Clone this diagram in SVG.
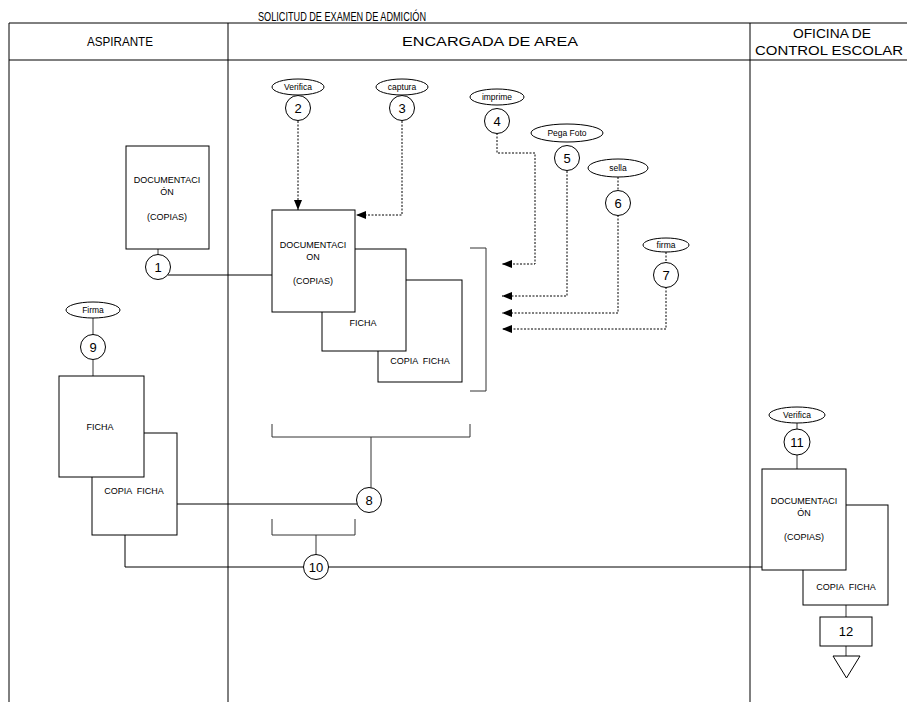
<svg xmlns="http://www.w3.org/2000/svg" width="907" height="702" viewBox="0 0 907 702">
<style>
.ln{stroke:#000;stroke-width:1;fill:none}
.cn{stroke:#333;stroke-width:1;fill:none}
.dt{stroke:#000;stroke-width:1;fill:none;stroke-dasharray:2,1.5}
.bx{fill:#fff;stroke:#000;stroke-width:1}
.el{fill:#fff;stroke:#000;stroke-width:1}
.hd{font-family:"Liberation Sans",Arial,sans-serif;font-size:13px;fill:#000;text-anchor:middle}
.sm{font-family:"Liberation Sans",Arial,sans-serif;font-size:9px;fill:#000;text-anchor:middle;white-space:pre}
.es{font-family:"Liberation Sans",Arial,sans-serif;font-size:8.5px;fill:#000;text-anchor:middle}
.nm{font-family:"Liberation Sans",Arial,sans-serif;font-size:13px;fill:#000;text-anchor:middle}
</style>
<defs>
<marker id="ar" markerWidth="10" markerHeight="8" refX="10" refY="4" orient="auto" markerUnits="userSpaceOnUse">
<path d="M0,0 L10,4 L0,8 Z" fill="#000"/>
</marker>
</defs>
<rect width="907" height="702" fill="#fff"/>
<g id="table">
<text class="hd" x="342" y="21" textLength="168" lengthAdjust="spacingAndGlyphs">SOLICITUD DE EXAMEN DE ADMICIÓN</text>
<line class="ln" x1="9" y1="23" x2="907" y2="23"/>
<line class="ln" x1="9" y1="60" x2="907" y2="60"/>
<line class="ln" x1="9" y1="23" x2="9" y2="702"/>
<line class="ln" x1="228" y1="23" x2="228" y2="702"/>
<line class="ln" x1="750" y1="23" x2="750" y2="702"/>
<text class="hd" x="120" y="46" textLength="66" lengthAdjust="spacingAndGlyphs">ASPIRANTE</text>
<text class="hd" x="490" y="46" textLength="176" lengthAdjust="spacingAndGlyphs">ENCARGADA DE AREA</text>
<text class="hd" x="832" y="38" textLength="78" lengthAdjust="spacingAndGlyphs">OFICINA DE</text>
<text class="hd" x="829" y="55" textLength="148" lengthAdjust="spacingAndGlyphs">CONTROL ESCOLAR</text>
</g>
<g id="connectors">
<line class="cn" x1="158" y1="249" x2="158" y2="255"/>
<line class="ln" x1="168" y1="275" x2="272" y2="275"/>
<path class="dt" d="M298,121 V210" marker-end="url(#ar)"/>
<path class="dt" d="M402,121 V215 H356" marker-end="url(#ar)"/>
<path class="dt" d="M497,133 V153 H535 V264 H502" marker-end="url(#ar)"/>
<path class="dt" d="M567,171 V296 H502" marker-end="url(#ar)"/>
<path class="dt" d="M618,177 V191"/>
<path class="dt" d="M618,215 V313 H502" marker-end="url(#ar)"/>
<path class="dt" d="M666,252 V263"/>
<path class="dt" d="M666,287 V329 H502" marker-end="url(#ar)"/>
<path class="cn" d="M470,248 H486 V391 H470"/>
<path class="cn" d="M272,424 V437 H470 V424"/>
<line class="cn" x1="371" y1="437" x2="371" y2="488"/>
<line class="ln" x1="177" y1="504" x2="358" y2="504"/>
<path class="cn" d="M272,519 V535 H355 V519"/>
<line class="cn" x1="316" y1="535" x2="316" y2="555"/>
<path class="ln" d="M125,535 V567 H304"/>
<line class="ln" x1="328" y1="567" x2="762" y2="567"/>
<line class="cn" x1="93" y1="318" x2="93" y2="335"/>
<line class="cn" x1="93" y1="360" x2="93" y2="376"/>
<line class="cn" x1="797" y1="423" x2="797" y2="429"/>
<line class="cn" x1="797" y1="455" x2="797" y2="469"/>
<line class="cn" x1="846" y1="605" x2="846" y2="617"/>
<line class="cn" x1="846" y1="646" x2="846" y2="656"/>
</g>
<g id="doc-aspirante">
<rect class="bx" x="126" y="146" width="83" height="103"/>
<text class="sm" x="167" y="183">DOCUMENTACI</text>
<text class="sm" x="167" y="195">ÓN</text>
<text class="sm" x="167" y="220">(COPIAS)</text>
</g>
<g id="n1"><circle class="el" cx="158" cy="267" r="12.5"/><text class="nm" x="158" y="272">1</text></g>
<g id="n2"><ellipse class="el" cx="298" cy="87" rx="26" ry="8"/><text class="es" x="298" y="90">Verifica</text><circle class="el" cx="298" cy="108" r="12.5"/><text class="nm" x="298" y="113">2</text></g>
<g id="n3"><ellipse class="el" cx="402" cy="87" rx="26" ry="8"/><text class="es" x="402" y="90">captura</text><circle class="el" cx="402" cy="108" r="12.5"/><text class="nm" x="402" y="113">3</text></g>
<g id="n4"><ellipse class="el" cx="497" cy="97" rx="27" ry="8"/><text class="es" x="497" y="100">imprime</text><circle class="el" cx="497" cy="121" r="12.5"/><text class="nm" x="497" y="126">4</text></g>
<g id="n5"><ellipse class="el" cx="567" cy="133" rx="36" ry="9"/><text class="es" x="567" y="136">Pega Foto</text><circle class="el" cx="567" cy="158" r="12.5"/><text class="nm" x="567" y="163">5</text></g>
<g id="n6"><ellipse class="el" cx="618" cy="168" rx="30" ry="9"/><text class="es" x="618" y="171">sella</text><circle class="el" cx="618" cy="203" r="12.5"/><text class="nm" x="618" y="208">6</text></g>
<g id="n7"><ellipse class="el" cx="666" cy="245" rx="23" ry="7"/><text class="es" x="666" y="248">firma</text><circle class="el" cx="666" cy="275" r="12.5"/><text class="nm" x="666" y="280">7</text></g>
<g id="stack-encargada">
<rect class="bx" x="378" y="280" width="84" height="102"/>
<text class="sm" x="420" y="364">COPIA  FICHA</text>
<rect class="bx" x="322" y="249" width="84" height="102"/>
<text class="sm" x="363" y="326">FICHA</text>
<rect class="bx" x="272" y="210" width="83" height="102"/>
<text class="sm" x="313" y="248">DOCUMENTACI</text>
<text class="sm" x="313" y="260">ON</text>
<text class="sm" x="313" y="284">(COPIAS)</text>
</g>
<g id="n8"><circle class="el" cx="369" cy="500" r="12.5"/><text class="nm" x="369" y="505">8</text></g>
<g id="n9"><ellipse class="el" cx="93" cy="310" rx="27" ry="8"/><text class="es" x="93" y="313">Firma</text><circle class="el" cx="93" cy="347" r="12.5"/><text class="nm" x="93" y="352">9</text></g>
<g id="stack-aspirante">
<rect class="bx" x="92" y="433" width="85" height="102"/>
<text class="sm" x="134" y="494">COPIA  FICHA</text>
<rect class="bx" x="59" y="376" width="85" height="101"/>
<text class="sm" x="100" y="430">FICHA</text>
</g>
<g id="n10"><circle class="el" cx="316" cy="567" r="12.5"/><text class="nm" x="316" y="572">10</text></g>
<g id="n11"><ellipse class="el" cx="797" cy="415" rx="28" ry="8"/><text class="es" x="797" y="418">Verifica</text><circle class="el" cx="797" cy="442" r="13"/><text class="nm" x="797" y="447">11</text></g>
<g id="stack-control">
<rect class="bx" x="803" y="505" width="85" height="100"/>
<text class="sm" x="846" y="590">COPIA  FICHA</text>
<rect class="bx" x="762" y="469" width="84" height="101"/>
<text class="sm" x="804" y="504">DOCUMENTACI</text>
<text class="sm" x="804" y="516">ÓN</text>
<text class="sm" x="804" y="540">(COPIAS)</text>
</g>
<g id="n12"><rect class="bx" x="820" y="617" width="52" height="29"/><text class="nm" x="846" y="636">12</text></g>
<g id="end"><path class="el" d="M833,656 H860 L846.5,678 Z"/></g>
</svg>
